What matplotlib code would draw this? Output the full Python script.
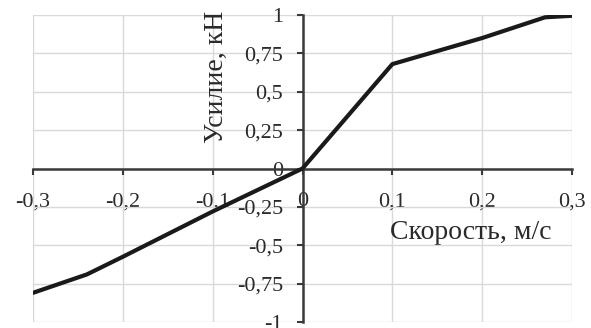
import matplotlib
matplotlib.use("Agg")
import matplotlib.pyplot as plt

speed = [-0.3, -0.24, -0.2, -0.1, 0.0, 0.1, 0.2, 0.27, 0.3]
force = [-0.81, -0.69, -0.575, -0.28, 0.0, 0.68, 0.85, 0.985, 0.995]

xticks = [-0.3, -0.2, -0.1, 0.0, 0.1, 0.2, 0.3]
xticklabels = ["-0,3", "-0,2", "-0,1", "0", "0,1", "0,2", "0,3"]
yticks = [-1, -0.75, -0.5, -0.25, 0, 0.25, 0.5, 0.75, 1]
yticklabels = ["-1", "-0,75", "-0,5", "-0,25", "0", "0,25", "0,5", "0,75", "1"]

plt.rcParams['font.family'] = ['Liberation Serif', 'DejaVu Serif']

fig = plt.figure(figsize=(5.91, 3.28), dpi=100)
ax = fig.add_axes([33/591, 6/328, 539/591, 307/328])

ax.plot(speed, force, color="#1a1a1a", lw=3.0, solid_capstyle="round",
        solid_joinstyle="round", zorder=3)

ax.set_xlim(-0.3, 0.3)
ax.set_ylim(-1, 1)
ax.set_xticks(xticks)
ax.set_xticklabels(xticklabels)
ax.set_yticks(yticks)
ax.set_yticklabels(yticklabels)

ax.grid(True, color="#d9d9d9", lw=1.0)
ax.set_axisbelow(True)

for s in ["top", "right"]:
    ax.spines[s].set_visible(False)
ax.spines["left"].set_position(("data", 0))
ax.spines["bottom"].set_position(("data", 0))
for s in ["left", "bottom"]:
    ax.spines[s].set_color("#3a3a3a")
    ax.spines[s].set_linewidth(1.8)
    ax.spines[s].set_zorder(2.5)

ax.tick_params(axis="both", direction="out", length=4, width=1.5, color="#3a3a3a",
               labelsize=16, labelcolor="#2a2a2a")
ax.tick_params(axis="y", pad=10)
ax.tick_params(axis="x", pad=13)

ax.set_xlabel("Скорость, м/с", fontsize=20, color="#2a2a2a")
ax.set_ylabel("Усилие, кН", fontsize=20, color="#2a2a2a")
ax.xaxis.set_label_coords(0.813, 0.293)
ax.yaxis.set_label_coords(0.34, 0.80)
ax.xaxis.label.set_va("center")
ax.yaxis.label.set_va("center")

fig.savefig("out.png", dpi=100)
